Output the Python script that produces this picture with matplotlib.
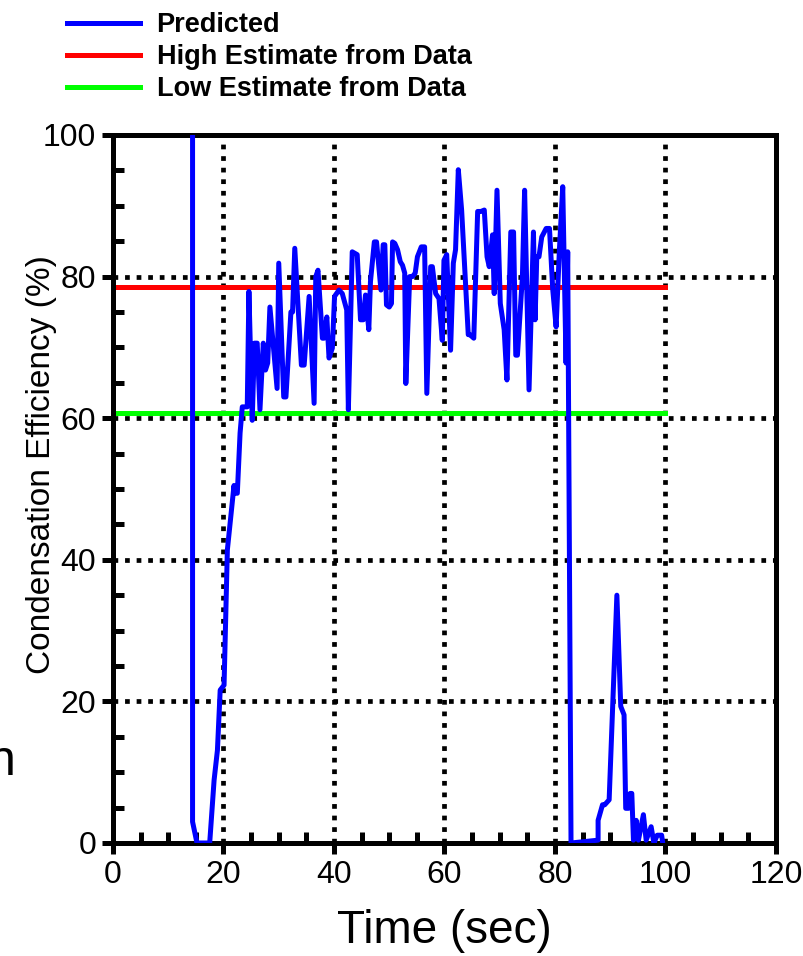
import matplotlib
matplotlib.use("Agg")
import matplotlib.pyplot as plt
from matplotlib.ticker import MultipleLocator

# ---- data ----
time_pred = [14.4, 14.4, 15.2, 17.5, 18.3, 18.9, 19.4, 20.1, 20.7, 21.9, 22.0, 22.5, 23.0,
             23.4, 24.3, 24.6, 25.2, 25.6, 26.1, 26.6, 27.2, 27.6, 28.0, 28.4, 29.7,
             30.0, 30.9, 31.3, 32.2, 32.5, 32.9, 34.1, 34.6, 35.5, 36.4, 36.7, 37.1,
             37.9, 38.2, 38.7, 39.1, 39.7, 40.1, 40.9, 41.5, 42.3, 42.6, 43.3, 44.2,
             44.8, 45.3, 45.7, 46.3, 46.6, 47.3, 47.7, 48.5, 48.9, 49.2, 49.5, 50.0,
             50.4, 50.6, 51.0, 51.5, 52.0, 52.4, 52.8, 53.0, 53.7, 54.2, 54.7, 55.1,
             55.8, 56.4, 56.8, 57.5, 57.8, 58.4, 59.0, 59.6, 59.9, 60.4, 61.1, 61.6,
             62.0, 62.5, 63.1, 64.3, 64.6, 65.3, 66.0, 66.6, 67.2, 67.7, 68.1, 68.7,
             69.0, 69.5, 70.1, 70.8, 71.3, 72.0, 72.5, 72.9, 73.2, 74.1, 74.5, 75.3,
             76.1, 76.4, 76.7, 77.1, 77.6, 78.4, 79.0, 79.6, 80.2, 80.8, 81.4, 82.0,
             82.3, 82.9, 87.8, 87.8, 88.6, 89.0, 89.8, 91.2, 91.9, 92.5, 92.8, 93.3,
             93.6, 93.9, 94.2, 94.7, 95.1, 96.0, 96.5, 97.4, 97.9, 98.5, 99.3, 99.5]
eff_pred = [150.0, 3.0, 0.0, 0.0, 8.9, 13.1, 21.6, 22.3, 41.4, 50.5, 49.4, 49.4, 57.9,
            61.6, 61.6, 77.9, 59.7, 70.6, 70.6, 61.2, 70.6, 66.8, 67.8, 75.7, 64.2,
            81.9, 63.0, 63.0, 75.0, 75.0, 84.0, 67.5, 67.5, 77.2, 62.1, 80.0, 80.9,
            71.3, 71.3, 74.3, 68.5, 69.9, 77.2, 78.1, 77.6, 75.3, 61.2, 83.5, 83.1,
            73.9, 73.9, 77.4, 72.5, 79.3, 84.9, 84.9, 78.1, 84.5, 84.5, 76.0, 75.7,
            76.2, 84.9, 84.7, 83.8, 82.1, 81.6, 80.5, 64.9, 80.0, 80.0, 80.5, 82.8,
            84.2, 84.2, 63.5, 81.4, 81.4, 77.6, 76.9, 71.0, 82.3, 83.1, 69.6, 81.9,
            83.8, 95.1, 89.4, 71.8, 71.8, 71.3, 89.2, 89.2, 89.4, 82.8, 81.4, 85.9,
            77.6, 92.2, 76.2, 72.5, 65.4, 86.3, 86.3, 68.9, 68.9, 80.0, 92.2, 64.0,
            86.3, 73.9, 82.8, 82.8, 85.6, 86.8, 86.8, 78.1, 72.9, 83.8, 92.7, 67.8,
            83.5, 0.0, 0.4, 3.2, 5.4, 5.4, 6.1, 35.0, 19.3, 18.1, 4.9, 4.9,
            7.0, 7.0, 0.4, 3.2, 0.4, 4.0, 0.4, 2.3, 0.0, 1.1, 1.1, 0.0]
est_time = [0, 100]
high_est = [78.6, 78.6]
low_est = [60.7, 60.7]

labels = ["Predicted", "High Estimate from Data", "Low Estimate from Data"]
x_ticks = [0, 20, 40, 60, 80, 100, 120]
y_ticks = [0, 20, 40, 60, 80, 100]
grid_x = [20, 40, 60, 80, 100]
grid_y = [20, 40, 60, 80]

plt.rcParams['font.family'] = ['Liberation Sans', 'DejaVu Sans']

fig = plt.figure(figsize=(8.04, 9.56), dpi=100)
ax = fig.add_axes([113/804, 1-843/956, (776-113)/804, (843-135)/956])

dot = (0, (1, 1.45))
for gx in grid_x:
    ax.axvline(gx, color='black', lw=3.4, linestyle=dot, zorder=1)
for gy in grid_y:
    ax.axhline(gy, color='black', lw=3.4, linestyle=dot, zorder=1)

lp, = ax.plot(time_pred, eff_pred, color='#0000ff', lw=3.6, zorder=3, label=labels[0])
lh, = ax.plot(est_time, high_est, color='#ff0000', lw=3.6, zorder=2, label=labels[1])
ll, = ax.plot(est_time, low_est, color='#00ff00', lw=3.6, zorder=2, label=labels[2])

ax.set_xlim(0, 120)
ax.set_ylim(0, 100)
ax.set_xticks(x_ticks)
ax.set_yticks(y_ticks)
ax.xaxis.set_minor_locator(MultipleLocator(5))
ax.yaxis.set_minor_locator(MultipleLocator(5))
ax.tick_params(which='major', direction='out', length=8, width=3.6, labelsize=23, pad=4)
ax.tick_params(which='minor', direction='in', length=8, width=3.6)
for s in ax.spines.values():
    s.set_linewidth(3.6)

ax.set_xlabel("Time (sec)", fontsize=33, labelpad=14)
ax.set_ylabel("Condensation Efficiency (%)", fontsize=24)
ax.yaxis.set_label_coords(-0.085, 0.535)

fig.legend(handles=[lp, lh, ll], labels=labels, loc='upper left',
           bbox_to_anchor=(55/804, 1.0), frameon=False,
           prop={'weight': 'bold', 'size': 19.5}, handlelength=2.7,
           handletextpad=0.6, labelspacing=0.22, borderaxespad=0.05)

fig.text(-12/804, 1-775/956, "n", fontsize=36, ha='left', va='baseline')

fig.savefig("out.png", dpi=100)
